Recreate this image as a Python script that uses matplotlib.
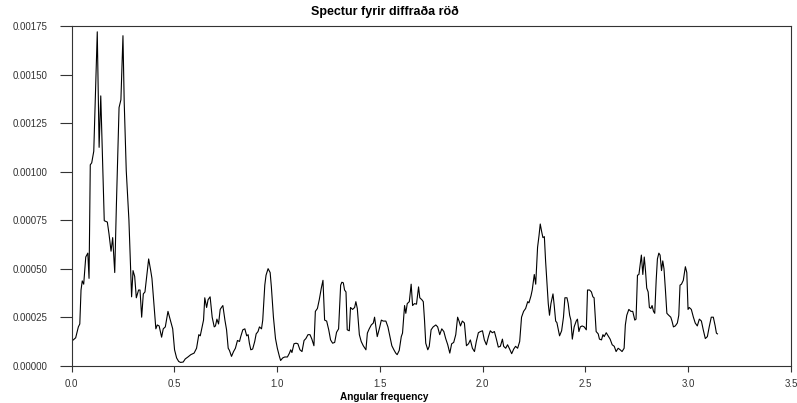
import numpy as np
import matplotlib
matplotlib.use("Agg")
import matplotlib.pyplot as plt


''' Spectrum of the differenced series
'''

freq = [0.003, 0.020, 0.033, 0.040, 0.046, 0.052, 0.059, 0.069, 0.079, 0.085,
        0.091, 0.098, 0.108, 0.125, 0.134, 0.142, 0.150, 0.159, 0.174, 0.182,
        0.192, 0.200, 0.210, 0.218, 0.231, 0.240, 0.250, 0.256, 0.266, 0.279,
        0.292, 0.299, 0.307, 0.315, 0.326, 0.333, 0.341, 0.349, 0.357, 0.375,
        0.385, 0.391, 0.402, 0.410, 0.417, 0.426, 0.438, 0.446, 0.456, 0.469,
        0.482, 0.492, 0.501, 0.511, 0.521, 0.530, 0.543, 0.553, 0.566, 0.580,
        0.596, 0.608, 0.619, 0.626, 0.635, 0.642, 0.648, 0.657, 0.664, 0.674,
        0.684, 0.694, 0.700, 0.707, 0.715, 0.723, 0.729, 0.736, 0.746, 0.754,
        0.762, 0.768, 0.778, 0.788, 0.797, 0.807, 0.817, 0.823, 0.833, 0.843,
        0.852, 0.859, 0.865, 0.872, 0.881, 0.891, 0.898, 0.907, 0.914, 0.924,
        0.930, 0.940, 0.946, 0.956, 0.966, 0.972, 0.982, 0.992, 1.001, 1.011,
        1.017, 1.027, 1.037, 1.050, 1.060, 1.066, 1.072, 1.082, 1.092, 1.101,
        1.111, 1.121, 1.131, 1.140, 1.150, 1.160, 1.169, 1.179, 1.186, 1.196,
        1.205, 1.215, 1.223, 1.231, 1.241, 1.251, 1.260, 1.270, 1.280, 1.289,
        1.299, 1.309, 1.315, 1.322, 1.328, 1.335, 1.341, 1.351, 1.357, 1.367,
        1.377, 1.383, 1.390, 1.400, 1.409, 1.419, 1.432, 1.439, 1.448, 1.458,
        1.468, 1.474, 1.480, 1.487, 1.497, 1.507, 1.516, 1.523, 1.529, 1.539,
        1.548, 1.558, 1.568, 1.577, 1.584, 1.594, 1.604, 1.610, 1.620, 1.626,
        1.633, 1.643, 1.652, 1.659, 1.668, 1.678, 1.688, 1.694, 1.704, 1.711,
        1.717, 1.723, 1.733, 1.740, 1.749, 1.759, 1.772, 1.781, 1.791, 1.801,
        1.811, 1.820, 1.830, 1.840, 1.849, 1.859, 1.869, 1.878, 1.885, 1.892,
        1.901, 1.911, 1.921, 1.931, 1.940, 1.950, 1.960, 1.969, 1.979, 1.989,
        1.999, 2.008, 2.018, 2.028, 2.037, 2.047, 2.057, 2.066, 2.076, 2.086,
        2.096, 2.102, 2.112, 2.121, 2.131, 2.141, 2.151, 2.160, 2.170, 2.180,
        2.189, 2.199, 2.209, 2.219, 2.225, 2.235, 2.241, 2.251, 2.258, 2.267,
        2.274, 2.280, 2.287, 2.293, 2.300, 2.306, 2.313, 2.319, 2.325, 2.332,
        2.342, 2.348, 2.355, 2.361, 2.368, 2.374, 2.384, 2.393, 2.400, 2.410,
        2.416, 2.423, 2.429, 2.436, 2.445, 2.455, 2.461, 2.468, 2.475, 2.484,
        2.494, 2.504, 2.510, 2.520, 2.529, 2.536, 2.542, 2.552, 2.562, 2.568,
        2.578, 2.585, 2.591, 2.601, 2.610, 2.620, 2.630, 2.640, 2.649, 2.659,
        2.669, 2.678, 2.688, 2.694, 2.701, 2.711, 2.721, 2.730, 2.740, 2.746,
        2.753, 2.760, 2.766, 2.772, 2.779, 2.786, 2.792, 2.798, 2.805, 2.811,
        2.818, 2.824, 2.831, 2.837, 2.844, 2.850, 2.857, 2.863, 2.870, 2.876,
        2.882, 2.889, 2.896, 2.905, 2.915, 2.921, 2.928, 2.937, 2.947, 2.954,
        2.960, 2.967, 2.976, 2.986, 2.993, 2.999, 3.005, 3.015, 3.025, 3.034,
        3.044, 3.054, 3.064, 3.073, 3.083, 3.093, 3.102, 3.112, 3.122, 3.131,
        3.137, 3.142]

spec = [0.000128, 0.000144, 0.000200, 0.000215, 0.000390, 0.000437, 0.000420, 0.000560, 0.000580, 0.000450,
        0.001035, 0.001045, 0.001105, 0.001720, 0.001125, 0.001390, 0.001095, 0.000747, 0.000740, 0.000680,
        0.000590, 0.000660, 0.000480, 0.000825, 0.001330, 0.001370, 0.001700, 0.001360, 0.001005, 0.000750,
        0.000355, 0.000490, 0.000460, 0.000350, 0.000390, 0.000390, 0.000250, 0.000370, 0.000380, 0.000550,
        0.000490, 0.000450, 0.000300, 0.000190, 0.000210, 0.000205, 0.000147, 0.000190, 0.000200, 0.000280,
        0.000230, 0.000190, 0.000082, 0.000040, 0.000022, 0.000017, 0.000019, 0.000035, 0.000045, 0.000057,
        0.000065, 0.000090, 0.000160, 0.000154, 0.000200, 0.000235, 0.000350, 0.000300, 0.000340, 0.000355,
        0.000250, 0.000200, 0.000205, 0.000240, 0.000215, 0.000290, 0.000300, 0.000310, 0.000235, 0.000185,
        0.000090, 0.000079, 0.000048, 0.000073, 0.000090, 0.000130, 0.000125, 0.000150, 0.000185, 0.000190,
        0.000154, 0.000160, 0.000116, 0.000082, 0.000086, 0.000125, 0.000164, 0.000176, 0.000200, 0.000190,
        0.000235, 0.000415, 0.000466, 0.000500, 0.000480, 0.000406, 0.000250, 0.000140, 0.000090, 0.000048,
        0.000027, 0.000040, 0.000045, 0.000045, 0.000065, 0.000082, 0.000068, 0.000113, 0.000116, 0.000113,
        0.000082, 0.000073, 0.000130, 0.000140, 0.000160, 0.000160, 0.000137, 0.000103, 0.000280, 0.000295,
        0.000340, 0.000400, 0.000440, 0.000235, 0.000230, 0.000185, 0.000133, 0.000116, 0.000120, 0.000172,
        0.000190, 0.000415, 0.000430, 0.000427, 0.000390, 0.000380, 0.000185, 0.000180, 0.000300, 0.000290,
        0.000300, 0.000330, 0.000295, 0.000160, 0.000125, 0.000103, 0.000082, 0.000168, 0.000190, 0.000210,
        0.000220, 0.000250, 0.000205, 0.000150, 0.000190, 0.000235, 0.000230, 0.000230, 0.000230, 0.000200,
        0.000154, 0.000103, 0.000082, 0.000065, 0.000057, 0.000079, 0.000150, 0.000168, 0.000310, 0.000270,
        0.000320, 0.000330, 0.000420, 0.000310, 0.000320, 0.000317, 0.000406, 0.000350, 0.000340, 0.000330,
        0.000235, 0.000116, 0.000082, 0.000100, 0.000185, 0.000200, 0.000210, 0.000200, 0.000160, 0.000190,
        0.000176, 0.000140, 0.000108, 0.000065, 0.000113, 0.000120, 0.000160, 0.000250, 0.000230, 0.000205,
        0.000230, 0.000220, 0.000103, 0.000113, 0.000133, 0.000090, 0.000073, 0.000125, 0.000170, 0.000176,
        0.000180, 0.000133, 0.000108, 0.000150, 0.000180, 0.000170, 0.000176, 0.000140, 0.000096, 0.000100,
        0.000137, 0.000100, 0.000090, 0.000108, 0.000086, 0.000062, 0.000086, 0.000100, 0.000090, 0.000125,
        0.000250, 0.000280, 0.000295, 0.000330, 0.000324, 0.000360, 0.000390, 0.000470, 0.000420, 0.000610,
        0.000670, 0.000730, 0.000690, 0.000660, 0.000665, 0.000540, 0.000420, 0.000320, 0.000260, 0.000320,
        0.000370, 0.000310, 0.000230, 0.000222, 0.000185, 0.000154, 0.000180, 0.000250, 0.000350, 0.000350,
        0.000320, 0.000260, 0.000235, 0.000137, 0.000200, 0.000230, 0.000240, 0.000176, 0.000200, 0.000205,
        0.000200, 0.000185, 0.000390, 0.000390, 0.000380, 0.000355, 0.000350, 0.000176, 0.000164, 0.000137,
        0.000133, 0.000160, 0.000150, 0.000170, 0.000154, 0.000137, 0.000108, 0.000100, 0.000073, 0.000090,
        0.000082, 0.000073, 0.000090, 0.000210, 0.000260, 0.000290, 0.000280, 0.000280, 0.000235, 0.000240,
        0.000466, 0.000470, 0.000520, 0.000570, 0.000470, 0.000560, 0.000490, 0.000400, 0.000380, 0.000300,
        0.000295, 0.000310, 0.000280, 0.000270, 0.000440, 0.000550, 0.000580, 0.000570, 0.000490, 0.000540,
        0.000500, 0.000390, 0.000270, 0.000260, 0.000250, 0.000230, 0.000200, 0.000205, 0.000220, 0.000260,
        0.000415, 0.000420, 0.000440, 0.000510, 0.000480, 0.000290, 0.000300, 0.000290, 0.000250, 0.000220,
        0.000205, 0.000240, 0.000230, 0.000185, 0.000140, 0.000150, 0.000200, 0.000250, 0.000250, 0.000205,
        0.000168, 0.000164]

xticks = [0.0, 0.5, 1.0, 1.5, 2.0, 2.5, 3.0, 3.5]
yticks = [0.0, 0.00025, 0.0005, 0.00075, 0.001, 0.00125, 0.0015, 0.00175]
ylabels = ["0.00000", "0.00025", "0.00050", "0.00075", "0.00100", "0.00125", "0.00150", "0.00175"]

plt.rcParams['font.family'] = ['Liberation Sans', 'DejaVu Sans']

fig = plt.figure(figsize=(7.97, 4.03), dpi=100)
ax = fig.add_axes([0.0898, 0.0925, 0.9027, 0.843])

ax.plot(freq, spec, color='black', linewidth=0.8)

ax.set_xlim(0, 3.5)
ax.set_ylim(0, 0.00175)
ax.set_xticks(xticks)
ax.set_xticklabels([f"{t:.1f}" for t in xticks])
ax.set_yticks(yticks)
ax.set_yticklabels(ylabels)

for s in ax.spines.values():
    s.set_color('#333333')
    s.set_linewidth(0.8)

ax.tick_params(axis='x', length=4.5, width=0.8, color='#333333', labelsize=7,
               labelcolor='#333333', pad=5)
ax.tick_params(axis='y', length=9, width=0.8, color='#333333', labelsize=7,
               labelcolor='#333333', pad=8.5)

# title and x label sit a bit left of the axes centre in the original
ax.set_title('Spectur fyrir diffraða röð', fontsize=9, fontweight='bold', pad=8, x=0.435)
ax.set_xlabel('Angular frequency', fontsize=7.2, fontweight='bold', labelpad=2, x=0.435)

fig.savefig('out.png', dpi=100)
